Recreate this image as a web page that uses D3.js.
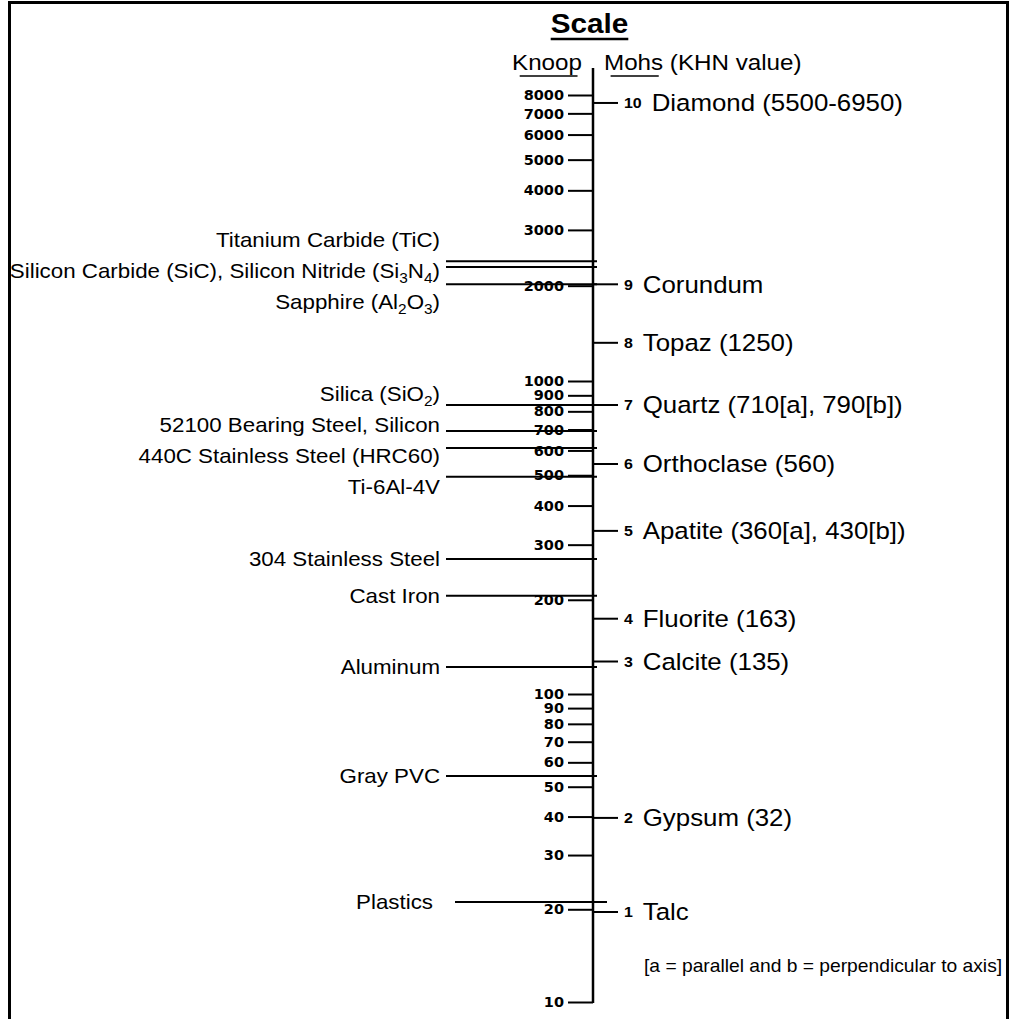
<!DOCTYPE html>
<html>
<head>
<meta charset="utf-8">
<script src="https://d3js.org/d3.v7.min.js"></script>
<style>
  body { margin: 0; background: #fff; }
  svg { display: block; }
  text { font-family: "Liberation Sans", Arial, Helvetica, sans-serif; fill: #000; }
  .knoop text { font-family: "DejaVu Sans", sans-serif; font-weight: bold; font-size: 14.5px; }
</style>
</head>
<body>
<svg id="chart" width="1011" height="1019"></svg>
<script>
// Knoop scale tick labels
var knoopTicks = [8000, 7000, 6000, 5000, 4000, 3000, 2000, 1000, 900, 800, 700, 600, 500,
                  400, 300, 200, 100, 90, 80, 70, 60, 50, 40, 30, 20, 10];

// Mohs minerals, placed on the Knoop axis
var mohsNumbers = [10, 9, 8, 7, 6, 5, 4, 3, 2, 1];
var mohsMinerals = ["Diamond (5500-6950)", "Corundum", "Topaz (1250)", "Quartz (710[a], 790[b])",
                    "Orthoclase (560)", "Apatite (360[a], 430[b])", "Fluorite (163)",
                    "Calcite (135)", "Gypsum (32)", "Talc"];
var mohsKhn = [7550, 2020, 1320, 838, 543, 332, 174, 127, 39.6, 19.6];

// Engineering materials (left side), "_n" marks a subscript
var materials = ["Titanium Carbide (TiC)", "Silicon Carbide (SiC), Silicon Nitride (Si_3N_4)",
                 "Sapphire (Al_2O_3)", "Silica (SiO_2)", "52100 Bearing Steel, Silicon",
                 "440C Stainless Steel (HRC60)", "Ti-6Al-4V", "304 Stainless Steel", "Cast Iron",
                 "Aluminum", "Gray PVC", "Plastics"];
var materialKhn = [2390, 2290, 2020, 838, 692, 611, 494, 270, 206, 122, 54.2, 21.1];

var note = "[a = parallel and b = perpendicular to axis]";

var svg = d3.select("#chart"),
    axisX = 593,
    stretch = 1.1;   // the scanned lettering is a bit wider than Arial

var y = d3.scaleLog()
    .domain([10, 100, 1000, 8000])
    .range([1002, 694, 381, 95]);

// frame (bottom edge is cut off in the original)
svg.append("rect")
    .attr("x", 9.5).attr("y", 2.5)
    .attr("width", 998).attr("height", 1100)
    .attr("fill", "none").attr("stroke", "#000").attr("stroke-width", 3);

function placeText(x, yy, anchor) {
    return svg.append("g")
        .attr("transform", "translate(" + x + "," + yy + ") scale(" + stretch + ",1)")
        .append("text")
        .attr("text-anchor", anchor);
}

function writeFormula(textSel, str) {
    var parts = str.split(/_(\d)/),
        shift = 0;
    parts.forEach(function (p, i) {
        var sub = i % 2 === 1,
            target = sub ? 5 : 0;
        if (p === "") return;
        textSel.append("tspan")
            .attr("dy", target - shift)
            .attr("font-size", sub ? 14 : null)
            .text(p);
        shift = target;
    });
}

// push label centres apart so they keep a minimum gap
function spreadLabels(targets, gap) {
    var clusters = targets.map(function (t, i) {
        return {start: t, items: [i], sum: t};
    });
    var changed = true;
    while (changed) {
        changed = false;
        for (var i = 0; i < clusters.length - 1; i++) {
            var a = clusters[i], b = clusters[i + 1];
            var aEnd = a.start + (a.items.length - 1) * gap;
            if (b.start - aEnd < gap) {
                var items = a.items.concat(b.items),
                    sum = a.sum + b.sum,
                    n = items.length;
                clusters.splice(i, 2, {start: sum / n - (n - 1) * gap / 2, items: items, sum: sum});
                changed = true;
                break;
            }
        }
    }
    var out = [];
    clusters.forEach(function (c) {
        c.items.forEach(function (idx, k) { out[idx] = c.start + k * gap; });
    });
    return out;
}

// Title and column headers
var title = placeText(589.5, 33, "middle")
    .attr("font-size", 27).attr("font-weight", "bold").text("Scale");
var tb = title.node().getBBox();
d3.select(title.node().parentNode).append("line")
    .attr("x1", tb.x).attr("x2", tb.x + tb.width)
    .attr("y1", 6).attr("y2", 6)
    .attr("stroke", "#000").attr("stroke-width", 2.5);

var knoopHead = placeText(512, 70, "start").attr("font-size", 22).text("Knoop");
var kb = knoopHead.node().getBBox();
d3.select(knoopHead.node().parentNode).append("line")
    .attr("x1", kb.x + 7).attr("x2", kb.x + kb.width - 4)
    .attr("y1", 6).attr("y2", 6)
    .attr("stroke", "#000").attr("stroke-width", 1.5);

var mohsHead = placeText(604, 70, "start").attr("font-size", 22).text("Mohs (KHN value)");
var mLen = mohsHead.node().getSubStringLength(0, 4);
d3.select(mohsHead.node().parentNode).append("line")
    .attr("x1", 6).attr("x2", mLen - 4)
    .attr("y1", 6).attr("y2", 6)
    .attr("stroke", "#000").attr("stroke-width", 1.5);

// Knoop axis
var axis = d3.axisLeft(y)
    .tickValues(knoopTicks)
    .tickSize(25)
    .tickSizeOuter(0)
    .tickPadding(4)
    .tickFormat(d3.format("d"));

var gAxis = svg.append("g")
    .attr("class", "knoop")
    .attr("transform", "translate(" + axisX + ",0)")
    .call(axis);
gAxis.select(".domain").remove();
gAxis.selectAll(".tick line").attr("stroke", "#000").attr("stroke-width", 2);
gAxis.selectAll(".tick text").attr("fill", "#000");

svg.append("line")
    .attr("x1", axisX).attr("x2", axisX)
    .attr("y1", 68).attr("y2", y(10) + 1)
    .attr("stroke", "#000").attr("stroke-width", 2.5);

// Mohs marks
mohsNumbers.forEach(function (num, i) {
    var yy = y(mohsKhn[i]);
    svg.append("line")
        .attr("x1", axisX).attr("x2", axisX + 25)
        .attr("y1", yy).attr("y2", yy)
        .attr("stroke", "#000").attr("stroke-width", 2);
    var t = placeText(624, yy + 8.3, "start");
    t.append("tspan")
        .attr("font-size", 14.5).attr("font-weight", "bold")
        .attr("dy", -3)
        .text(num);
    t.append("tspan")
        .attr("font-size", 23.5)
        .attr("dx", 9).attr("dy", 3)
        .text(mohsMinerals[i]);
});

// Materials
var labelY = spreadLabels(materialKhn.map(function (v) { return y(v); }), 31);

materials.forEach(function (name, i) {
    var yy = y(materialKhn[i]),
        isRange = name === "Plastics";   // plastics line runs past the axis
    svg.append("line")
        .attr("x1", isRange ? 455 : 446)
        .attr("x2", isRange ? 607 : 597)
        .attr("y1", yy).attr("y2", yy)
        .attr("stroke", "#000").attr("stroke-width", 2);
    var t = placeText(isRange ? 433 : 440, labelY[i] + 7, "end").attr("font-size", 20.3);
    writeFormula(t, name);
});

placeText(644, 972, "start").attr("font-size", 17.5).text(note);
</script>
</body>
</html>
